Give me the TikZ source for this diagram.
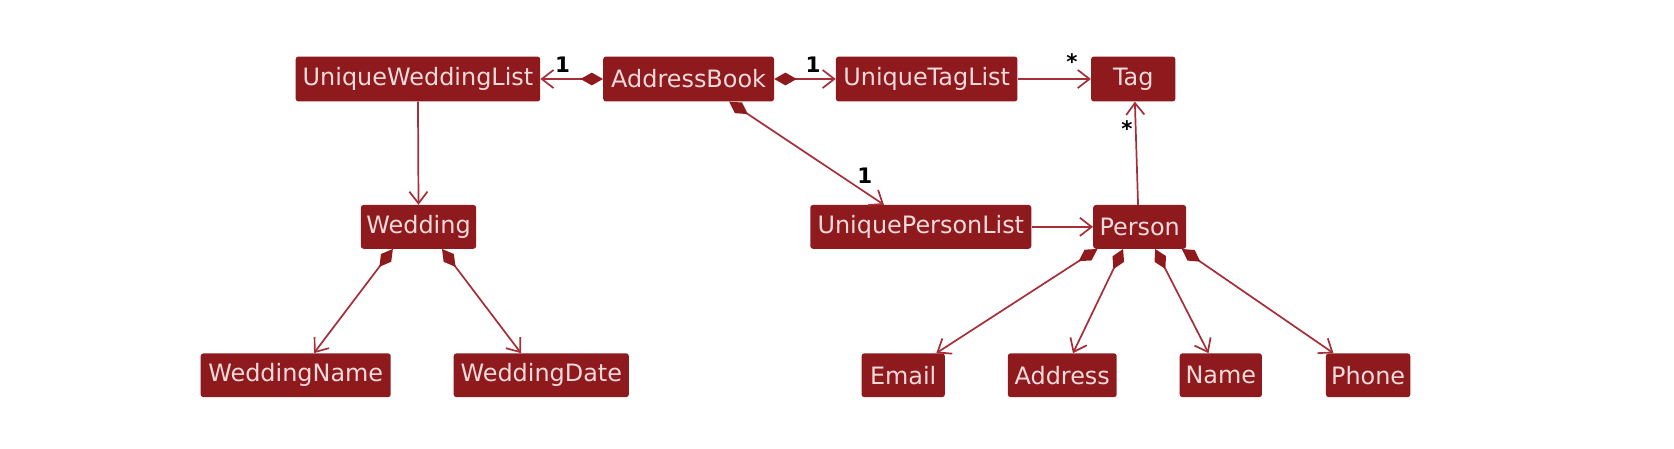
\documentclass[tikz,border=0pt]{standalone}
\usepackage{fontspec}
\setmainfont{DejaVu Sans}
\usetikzlibrary{arrows.meta}
\definecolor{boxfill}{HTML}{8E1A1E}
\definecolor{boxtext}{HTML}{F0DADA}
\definecolor{linec}{HTML}{A52E38}
\tikzset{
  cls/.style={fill=boxfill, text=boxtext, rounded corners=2.5pt, inner sep=0pt,
    minimum height=42pt, font=\fontsize{22.4}{26}\selectfont},
  rel/.style={draw=linec, line width=1.6pt, -{Straight Barb[length=11pt,width=17pt,line width=1.6pt]}},
  comp/.style={draw=linec, line width=1.6pt, {Diamond[length=21pt,width=12pt,fill=boxfill,color=boxfill]}-{Straight Barb[length=11pt,width=17pt,line width=1.6pt]}},
  mult/.style={font=\fontsize{20}{22}\selectfont\bfseries, text=black, inner sep=0pt}
}
\begin{document}
\begin{tikzpicture}[x=1pt,y=-1pt]
\useasboundingbox (0,0) rectangle (1568,420);
\node[cls, minimum width=229pt] (uwl) at (391.5,74) {UniqueWeddingList};
\node[cls, minimum width=160pt] (ab) at (645,74) {AddressBook};
\node[cls, minimum width=170pt] (utl) at (868,74) {UniqueTagList};
\node[cls, minimum width=79pt] (tag) at (1061.5,74) {Tag};
\node[cls, minimum width=108pt, minimum height=41pt] (wed) at (392,212.5) {Wedding};
\node[cls, minimum width=207pt, minimum height=41pt] (upl) at (862.5,212.5) {UniquePersonList};
\node[cls, minimum width=87pt, minimum height=41pt] (per) at (1067.5,212.5) {Person};
\node[cls, minimum width=178pt, minimum height=41pt] (wn) at (277,351.5) {WeddingName};
\node[cls, minimum width=164pt, minimum height=41pt] (wd) at (507,351.5) {WeddingDate};
\node[cls, minimum width=78pt, minimum height=41pt] (em) at (846,351.5) {Email};
\node[cls, minimum width=102pt, minimum height=41pt] (ad) at (995,351.5) {Address};
\node[cls, minimum width=77pt, minimum height=41pt] (nm) at (1143.5,351.5) {Name};
\node[cls, minimum width=79pt, minimum height=41pt] (ph) at (1281.5,351.5) {Phone};

\draw[comp] (ab.west) -- (uwl.east);
\draw[comp] (ab.east) -- (utl.west);
\draw[rel] (utl.east) -- (tag.west);
\draw[rel] ([xshift=-1.5pt]per.north) -- ([xshift=1.5pt]tag.south);
\draw[comp] ([xshift=38pt]ab.south) -- ([xshift=-34.5pt]upl.north);
\draw[rel] (uwl.south) -- (wed.north);
\draw[rel] (upl.east) -- (per.west);
\draw[comp] ([xshift=-24pt]wed.south) -- ([xshift=17pt]wn.north);
\draw[comp] ([xshift=22pt]wed.south) -- ([xshift=-19pt]wd.north);
\draw[comp] ([xshift=-39.5pt]per.south) -- ([xshift=31pt]em.north);
\draw[comp] ([xshift=-15.5pt]per.south) -- ([xshift=10pt]ad.north);
\draw[comp] ([xshift=14.5pt]per.south) -- ([xshift=-11.5pt]nm.north);
\draw[comp] ([xshift=39.5pt]per.south) -- ([xshift=-32.5pt]ph.north);

\node[mult] (m1) at (527,61) {1};
\node[mult] (m2) at (761.5,61) {1};
\node[mult] (m3) at (1004,58) {*};
\node[mult] (m4) at (1055.5,120) {*};
\node[mult] (m5) at (810,165) {1};
\end{tikzpicture}
\end{document}
